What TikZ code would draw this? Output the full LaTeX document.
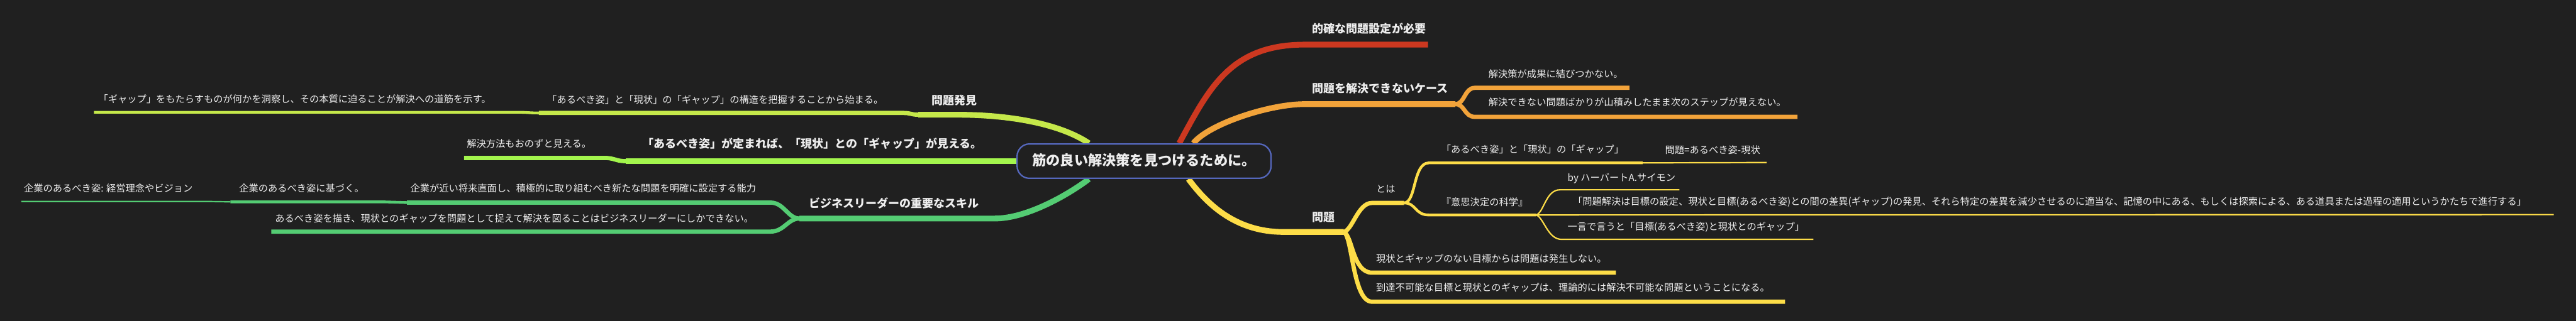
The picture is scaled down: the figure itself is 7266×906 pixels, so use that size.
\documentclass[tikz,border=0pt]{standalone}
\usepackage{fontspec}
\setmainfont{Noto Sans CJK JP}
\definecolor{mmbg}{HTML}{202020}
\definecolor{mmink}{HTML}{EEEEEE}
\definecolor{mmblue}{HTML}{5567BC}
\definecolor{mmlime}{HTML}{C5E84A}
\definecolor{mmgreen}{HTML}{A3F54D}
\definecolor{mmmint}{HTML}{54CC73}
\definecolor{mmred}{HTML}{CC3820}
\definecolor{mmorange}{HTML}{F2A33A}
\definecolor{mmyellow}{HTML}{FDDD48}
\pgfdeclarelayer{wires}
\pgfsetlayers{wires,main}
\tikzset{
  root/.style={draw=mmblue,line width=1.15pt,fill=mmbg,rounded corners=0.35cm,minimum width=7.16cm,minimum height=0.97cm,inner sep=0pt,text=mmink,font=\fontsize{11.2pt}{13pt}\selectfont\bfseries},
  topic/.style={anchor=west,inner sep=0pt,text=mmink,font=\fontsize{9.1pt}{11pt}\selectfont\bfseries},
  leaf/.style={anchor=west,inner sep=0pt,text=mmink,font=\fontsize{7.7pt}{9pt}\selectfont},
  w1/.style={line width=4.6pt},
  w2/.style={line width=3.4pt},
  w3/.style={line width=2.2pt},
  w4/.style={line width=1.1pt},
}

\begin{document}
\begin{tikzpicture}[x=0.01cm,y=-0.01cm]
  \useasboundingbox (0,0) rectangle (7266,906);
  \node[root] (root) at (3227,455) {\raisebox{2.8pt}{筋の良い解決策を見つけるために。}};
  % junctions
  \coordinate (jA) at (2590,324);\coordinate (jB) at (1520,319);\coordinate (jC) at (1765,455);
  \coordinate (jD) at (2255,617);\coordinate (jE) at (1148,572);\coordinate (jF) at (650,570);
  \coordinate (jG) at (4105,294);\coordinate (jH) at (3790,655);\coordinate (jI) at (3960,573);
  \coordinate (jJ) at (4333,607);
  \begin{pgfonlayer}{wires}
    \fill[mmbg] (0,0) rectangle (7266,906);
    % left side
    \draw[mmlime,w1] (root.162) .. controls (2990,350) and (2850,324) .. (2700,324) -- (jA);
    \draw[mmlime,w2] (jA) .. controls (2570,324) and (2570,319) .. (2548,319) -- (jB);
    \draw[mmlime,w3] (jB) .. controls (1490,319) and (1490,317) .. (1457,317) -- (265,317);
    \draw[mmgreen,w1] (root.west) -- (jC);
    \draw[mmgreen,w2] (jC) .. controls (1735,455) and (1735,446) .. (1704,446) -- (1309,446);
    \draw[mmmint,w1] (root.198) .. controls (3020,545) and (2900,617) .. (2806,617) -- (jD);
    \draw[mmmint,w2] (jD) .. controls (2222,617) and (2212,572) .. (2173,572) -- (jE);
    \draw[mmmint,w3] (jE) .. controls (1115,572) and (1115,570) .. (1081,570) -- (jF);
    \draw[mmmint,w4] (jF) .. controls (620,570) and (620,569) .. (590,569) -- (60,569);
    \draw[mmmint,w2] (jD) .. controls (2222,617) and (2212,654) .. (2173,654) -- (765,654);
    % right side
    \draw[mmred,w1] (root.27) .. controls (3410,250) and (3470,126) .. (3680,126) -- (4028,126);
    \draw[mmorange,w1] (root.20) .. controls (3410,350) and (3580,294) .. (3680,294) -- (jG);
    \draw[mmorange,w2] (jG) .. controls (4132,294) and (4130,248) .. (4160,248) -- (4596,248);
    \draw[mmorange,w2] (jG) .. controls (4132,294) and (4130,330) .. (4160,330) -- (5070,330);
    \draw[mmyellow,w1] (root.-22) .. controls (3400,570) and (3480,655) .. (3620,655) -- (jH);
    \draw[mmyellow,w2] (jH) .. controls (3815,650) and (3830,573) .. (3870,573) -- (jI);
    \draw[mmyellow,w2] (jH) .. controls (3815,665) and (3815,770) .. (3870,770) -- (4558,770);
    \draw[mmyellow,w2] (jH) .. controls (3815,665) and (3815,852) .. (3870,852) -- (5035,852);
    \draw[mmyellow,w3] (jI) .. controls (3995,573) and (3985,460) .. (4030,460) -- (4633,460);
    \draw[mmyellow,w4] (4620,460) -- (4983,459);
    \draw[mmyellow,w3] (jI) .. controls (3995,573) and (3990,607) .. (4030,607) -- (jJ);
    \draw[mmyellow,w4] (jJ) .. controls (4355,600) and (4360,536) .. (4400,536) -- (4737,536);
    \draw[mmyellow,w4] (jJ) -- (7203,606);
    \draw[mmyellow,w4] (jJ) .. controls (4355,615) and (4365,676) .. (4405,676) -- (5115,676);
  \end{pgfonlayer}
  % main topics
  \foreach \n/\x/\y/\t in {tFind/2627/283/{問題発見},
      tIdeal/1811/405/{「あるべき姿」が定まれば、「現状」との「ギャップ」が見える。},
      tSkill/2281/573/{ビジネスリーダーの重要なスキル},
      tNeed/3701/81/{的確な問題設定が必要},
      tCase/3701/249/{問題を解決できないケース},
      tProb/3701/614/{問題}}
    \node[topic] (\n) at (\x,\y) {\t};
  % sub topics
  \foreach \n/\x/\y/\t in {tFindA/1543/281/{「あるべき姿」と「現状」の「ギャップ」の構造を把握することから始まる。},
      tFindB/277/280/{「ギャップ」をもたらすものが何かを洞察し、その本質に迫ることが解決への道筋を示す。},
      tIdealA/1316/405/{解決方法もおのずと見える。},
      tSkillA/1157/532/{企業が近い将来直面し、積極的に取り組むべき新たな問題を明確に設定する能力},
      tSkillB/674/532/{企業のあるべき姿に基づく。},
      tSkillC/67/532/{企業のあるべき姿: 経営理念やビジョン},
      tSkillD/775/617/{あるべき姿を描き、現状とのギャップを問題として捉えて解決を図ることはビジネスリーダーにしかできない。},
      tCaseA/4198/208/{解決策が成果に結びつかない。},
      tCaseB/4198/289/{解決できない問題ばかりが山積みしたまま次のステップが見えない。},
      tWhat/3881/533/{とは},
      tGap/4065/422/{「あるべき姿」と「現状」の「ギャップ」},
      tFormula/4696/423/{問題=あるべき姿-現状},
      tSci/4065/570/{『意思決定の科学』},
      tBy/4421/503/{by ハーバートA.サイモン},
      tQuote/4436/570/{「問題解決は目標の設定、現状と目標(あるべき姿)との間の差異(ギャップ)の発見、それら特定の差異を減少させるのに適当な、記憶の中にある、もしくは探索による、ある道具または過程の適用というかたちで進行する」},
      tWord/4421/642/{一言で言うと「目標(あるべき姿)と現状とのギャップ」},
      tNoGap/3881/730/{現状とギャップのない目標からは問題は発生しない。},
      tFar/3881/812/{到達不可能な目標と現状とのギャップは、理論的には解決不可能な問題ということになる。}}
    \node[leaf] (\n) at (\x,\y) {\t};
\end{tikzpicture}
\end{document}
